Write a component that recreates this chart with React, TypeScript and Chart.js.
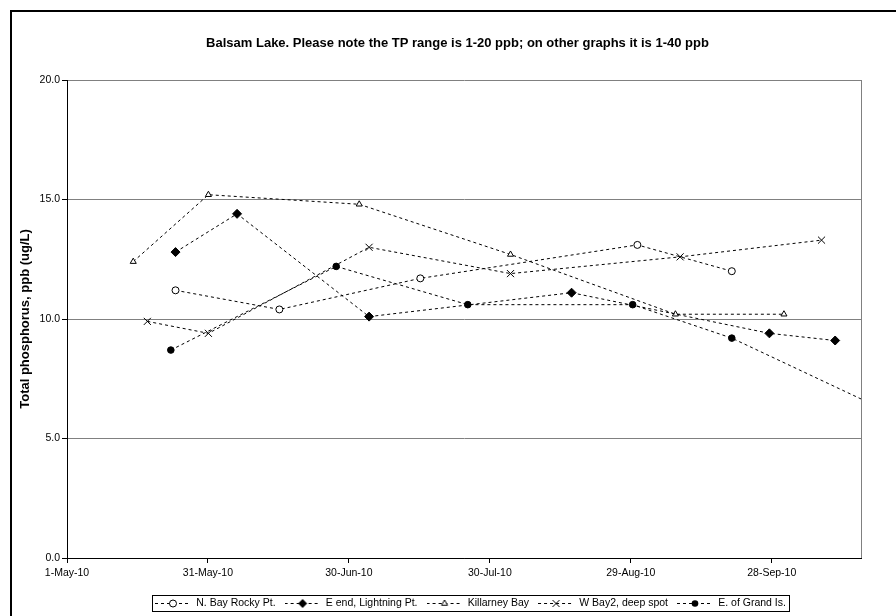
import React, { useEffect, useRef } from 'react';
import { Chart, registerables } from 'chart.js';

Chart.register(...registerables);

const FONT = "'Liberation Sans', Arial, Helvetica, sans-serif";

const CHART_TITLE = 'Balsam Lake. Please note the TP range is 1-20 ppb; on other graphs it is 1-40 ppb';
const Y_AXIS_TITLE = 'Total phosphorus, ppb (ug/L)';

// x values are days after 1-May-2010
const X_TICK_DAYS = [0, 30, 60, 90, 120, 150];
const X_TICK_LABELS = ['1-May-10', '31-May-10', '30-Jun-10', '30-Jul-10', '29-Aug-10', '28-Sep-10'];
const X_MIN_DAY = 0;
const X_MAX_DAY = 169;
const Y_MIN = 0;
const Y_MAX = 20;
const Y_STEP = 5;

const SERIES_NAMES = ['N. Bay Rocky Pt.', 'E end, Lightning Pt.', 'Killarney Bay', 'W Bay2, deep spot', 'E. of Grand Is.'];

const NBAY_DAYS = [23.1, 45.2, 75.2, 121.4, 141.5];
const NBAY_TP = [11.2, 10.4, 11.7, 13.1, 12.0];

const EEND_DAYS = [23.1, 36.2, 64.3, 107.4, 149.5, 163.5];
const EEND_TP = [12.8, 14.4, 10.1, 11.1, 9.4, 9.1];

const KILL_DAYS = [14.1, 30.1, 62.2, 94.4, 129.5, 152.6];
const KILL_TP = [12.4, 15.2, 14.8, 12.7, 10.2, 10.2];

const WBAY_DAYS = [17.1, 30.1, 64.3, 94.4, 130.5, 160.6];
const WBAY_TP = [9.9, 9.4, 13.0, 11.9, 12.6, 13.3];

const GRAND_DAYS = [22.1, 57.3, 85.3, 120.4, 141.5, 175];
const GRAND_TP = [8.7, 12.2, 10.6, 10.6, 9.2, 6.1];

const SERIES_DAYS = [NBAY_DAYS, EEND_DAYS, KILL_DAYS, WBAY_DAYS, GRAND_DAYS];
const SERIES_TP = [NBAY_TP, EEND_TP, KILL_TP, WBAY_TP, GRAND_TP];

const MARKERS = [
  { kind: 'circleOpen', pointStyle: 'circle', radius: 3.5, fill: '#ffffff' },
  { kind: 'diamond', pointStyle: 'rectRot', radius: 4.5, fill: '#000000' },
  { kind: 'triangle', pointStyle: 'triangle', radius: 3.5, fill: '#ffffff' },
  { kind: 'x', pointStyle: 'crossRot', radius: 5, fill: '#000000' },
  { kind: 'dot', pointStyle: 'circle', radius: 3.3, fill: '#000000' },
];

const LEGEND_FONT_SIZE = 10.5;
const LEGEND_PAD = 9;
const LEGEND_SAMPLE_W = 36;
const LEGEND_START_X = 155;
const LEGEND_CENTER_Y = 603;

function legendSample(kind: string): HTMLCanvasElement {
  const w = LEGEND_SAMPLE_W;
  const h = 12;
  const c = document.createElement('canvas');
  c.width = w;
  c.height = h;
  const g = c.getContext('2d') as CanvasRenderingContext2D;
  const cx = w / 2;
  const cy = 6.5;
  g.strokeStyle = '#000';
  g.lineWidth = 1;
  g.setLineDash([3, 3]);
  g.beginPath();
  g.moveTo(0, cy);
  g.lineTo(w, cy);
  g.stroke();
  g.setLineDash([]);
  g.beginPath();
  if (kind === 'circleOpen') {
    g.arc(cx, cy, 3.5, 0, Math.PI * 2);
    g.fillStyle = '#fff';
    g.fill();
    g.stroke();
  } else if (kind === 'diamond') {
    g.moveTo(cx - 4.5, cy);
    g.lineTo(cx, cy - 4.5);
    g.lineTo(cx + 4.5, cy);
    g.lineTo(cx, cy + 4.5);
    g.closePath();
    g.fillStyle = '#000';
    g.fill();
  } else if (kind === 'triangle') {
    const r = 3.5;
    for (let k = 0; k < 3; k++) {
      const a = (k * 2 * Math.PI) / 3;
      const px = cx + Math.sin(a) * r;
      const py = cy - Math.cos(a) * r;
      if (k === 0) g.moveTo(px, py);
      else g.lineTo(px, py);
    }
    g.closePath();
    g.fillStyle = '#fff';
    g.fill();
    g.stroke();
  } else if (kind === 'x') {
    const d = 3.5;
    g.moveTo(cx - d, cy - d);
    g.lineTo(cx + d, cy + d);
    g.moveTo(cx + d, cy - d);
    g.lineTo(cx - d, cy + d);
    g.stroke();
  } else {
    g.arc(cx, cy, 3.3, 0, Math.PI * 2);
    g.fillStyle = '#000';
    g.fill();
  }
  return c;
}

const excelLayoutPlugin = {
  id: 'excelLayout',
  afterLayout(chart: any) {
    const t = chart.titleBlock;
    if (t) {
      t.left = 11;
      t.right = 904;
      t.width = t.right - t.left;
    }
    const lg = chart.legend;
    if (lg) {
      const h = lg.height;
      const w = lg.width;
      lg.left = LEGEND_START_X - LEGEND_PAD;
      lg.right = lg.left + w;
      lg.top = LEGEND_CENTER_Y - LEGEND_PAD - LEGEND_FONT_SIZE / 2;
      lg.bottom = lg.top + h;
    }
  },
  beforeDatasetsDraw(chart: any) {
    const { ctx, chartArea } = chart;
    ctx.save();
    ctx.strokeStyle = '#808080';
    ctx.lineWidth = 1;
    const rx = Math.round(chartArea.right) + 0.5;
    ctx.beginPath();
    ctx.moveTo(rx, chartArea.top);
    ctx.lineTo(rx, chartArea.bottom);
    ctx.stroke();
    ctx.restore();
  },
  afterDraw(chart: any) {
    const { ctx } = chart;
    ctx.save();
    ctx.strokeStyle = '#000';
    ctx.lineWidth = 2;
    ctx.strokeRect(11, 11, chart.width + 20, chart.height + 20);
    const hb = chart.legend && chart.legend.legendHitBoxes;
    if (hb && hb.length) {
      const l = Math.round(hb[0].left - 3) + 0.5;
      const last = hb[hb.length - 1];
      const r = Math.round(last.left + last.width + 3) + 0.5;
      ctx.lineWidth = 1;
      ctx.strokeRect(l, LEGEND_CENTER_Y - 8 + 0.5, r - l, 16);
    }
    ctx.restore();
  },
};

export default function App() {
  const ref = useRef<HTMLCanvasElement>(null);
  useEffect(() => {
    document.body.style.margin = '0';
    const samples = MARKERS.map((m) => legendSample(m.kind));
    const datasets = SERIES_NAMES.map((name, i) => ({
      label: name,
      data: SERIES_DAYS[i].map((d, j) => ({ x: d, y: SERIES_TP[i][j] })),
      borderColor: '#000',
      borderWidth: 1,
      borderDash: [3, 3],
      fill: false,
      tension: 0,
      pointStyle: MARKERS[i].pointStyle,
      pointRadius: MARKERS[i].radius,
      pointHoverRadius: MARKERS[i].radius,
      pointBackgroundColor: MARKERS[i].fill,
      pointBorderColor: '#000',
      pointBorderWidth: 1,
    }));
    const chart = new Chart(ref.current as HTMLCanvasElement, {
      type: 'line',
      data: { datasets },
      plugins: [excelLayoutPlugin],
      options: {
        responsive: false,
        animation: false,
        events: [],
        layout: { padding: { left: 0, right: 35, top: 0, bottom: 0 } },
        scales: {
          x: {
            type: 'linear',
            min: X_MIN_DAY,
            max: X_MAX_DAY,
            afterBuildTicks: (scale: any) => {
              scale.ticks = X_TICK_DAYS.map((v) => ({ value: v }));
            },
            afterFit: (scale: any) => {
              const lg = scale.chart.legend;
              scale.height = scale.chart.height - (lg ? lg.height : 0) - 558;
            },
            ticks: {
              autoSkip: false,
              maxRotation: 0,
              padding: 4,
              color: '#000',
              font: { family: FONT, size: 10.5 },
              callback: (v: any) => {
                const k = X_TICK_DAYS.indexOf(Number(v));
                return k >= 0 ? X_TICK_LABELS[k] : '';
              },
            },
            grid: {
              drawOnChartArea: false,
              drawTicks: true,
              tickLength: 5,
              tickColor: '#000',
            },
            border: { display: true, color: '#000', width: 1 },
          },
          y: {
            type: 'linear',
            min: Y_MIN,
            max: Y_MAX,
            afterFit: (scale: any) => {
              scale.width = 67;
            },
            ticks: {
              stepSize: Y_STEP,
              padding: 2,
              color: '#000',
              font: { family: FONT, size: 10.5 },
              callback: (v: any) => Number(v).toFixed(1),
            },
            grid: {
              color: (c: any) => (c.tick && c.tick.value === 0 ? '#000' : '#808080'),
              lineWidth: 1,
              drawTicks: true,
              tickLength: 5,
              tickColor: '#000',
            },
            border: { display: true, color: '#000', width: 1 },
            title: {
              display: true,
              text: Y_AXIS_TITLE,
              color: '#000',
              font: { family: FONT, size: 13, weight: 'bold' },
              padding: { top: 17.2, bottom: 0 },
            },
          },
        },
        plugins: {
          title: {
            display: true,
            text: CHART_TITLE,
            color: '#000',
            font: { family: FONT, size: 13, weight: 'bold' },
            padding: { top: 35.2, bottom: 29.2 },
          },
          legend: {
            display: true,
            position: 'bottom',
            align: 'start',
            labels: {
              usePointStyle: true,
              pointStyleWidth: LEGEND_SAMPLE_W,
              boxHeight: 10,
              padding: LEGEND_PAD,
              color: '#000',
              font: { family: FONT, size: LEGEND_FONT_SIZE },
              generateLabels: (ch: any) => {
                const items = (Chart.defaults.plugins.legend.labels as any).generateLabels(ch);
                items.forEach((it: any, i: number) => {
                  it.pointStyle = samples[i];
                });
                return items;
              },
            },
          },
          tooltip: { enabled: false },
        },
      } as any,
    });
    return () => chart.destroy();
  }, []);
  return (
    <div style={{ position: 'absolute', left: 0, top: 0, width: 896, height: 616 }}>
      <canvas ref={ref} width={896} height={616} style={{ display: 'block', width: 896, height: 616 }} />
    </div>
  );
}
